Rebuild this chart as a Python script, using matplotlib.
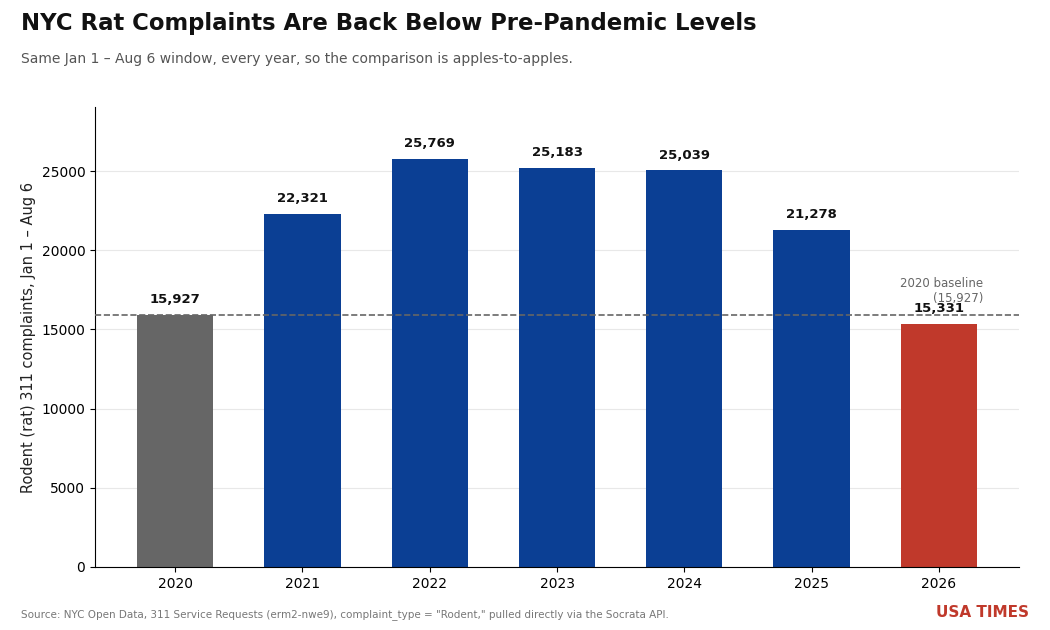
import matplotlib
matplotlib.use("Agg")
import matplotlib.pyplot as plt
import numpy as np

# ── Data ───────────────────────────────────────────────────────────────────────
years = ["2020", "2021", "2022", "2023", "2024", "2025", "2026"]
complaints = [15927, 22321, 25769, 25183, 25039, 21278, 15331]
baseline = complaints[0]

GRAY = "#666666"
BLUE = "#0b3f94"
RED = "#c0392b"
bar_colors = [GRAY] + [BLUE] * 5 + [RED]

plt.rcParams.update({
    "font.family": "DejaVu Sans",
    "axes.spines.top": False,
    "axes.spines.right": False,
})

fig = plt.figure(figsize=(10.5, 6.3), dpi=100)
ax = fig.add_axes([0.0905, 0.1, 0.88, 0.73])

x = np.arange(len(years))
bars = ax.bar(x, complaints, width=0.6, color=bar_colors, zorder=2)

top = max(complaints)
for bar, val in zip(bars, complaints):
    ax.text(bar.get_x() + bar.get_width() / 2, val + top * 0.022,
            f"{val:,}", ha="center", va="bottom", fontsize=9.5,
            fontweight="bold", color="#111111", zorder=4)

# Baseline
ax.axhline(baseline, color=GRAY, linestyle="--", linewidth=1.2, zorder=3)
ax.text(x[-1] + 0.35, baseline + top * 0.023, f"2020 baseline\n({baseline:,})",
        ha="right", va="bottom", fontsize=8.5, color=GRAY, zorder=4)

ax.set_xticks(x)
ax.set_xticklabels(years, fontsize=10)
ax.tick_params(axis="y", labelsize=10)
ax.set_ylim(0, top * 1.127)
ax.set_ylabel("Rodent (rat) 311 complaints, Jan 1 – Aug 6", fontsize=10.5, color="#222222")
ax.yaxis.grid(True, color="#e8e8e8", linewidth=0.8, zorder=0)
ax.set_axisbelow(True)

fig.text(0.02, 0.962, "NYC Rat Complaints Are Back Below Pre-Pandemic Levels",
         fontsize=16.4, fontweight="bold", color="#111111", va="center")
fig.text(0.02, 0.906, "Same Jan 1 – Aug 6 window, every year, so the comparison is apples-to-apples.",
         fontsize=10, color="#555555", va="center")
fig.text(0.02, 0.024, 'Source: NYC Open Data, 311 Service Requests (erm2-nwe9), complaint_type = "Rodent," pulled directly via the Socrata API.',
         fontsize=7.5, color="#777777", va="center")
fig.text(0.98, 0.028, "USA TIMES", fontsize=11, fontweight="bold", color=RED,
         ha="right", va="center")

fig.savefig("out.png", dpi=100)
